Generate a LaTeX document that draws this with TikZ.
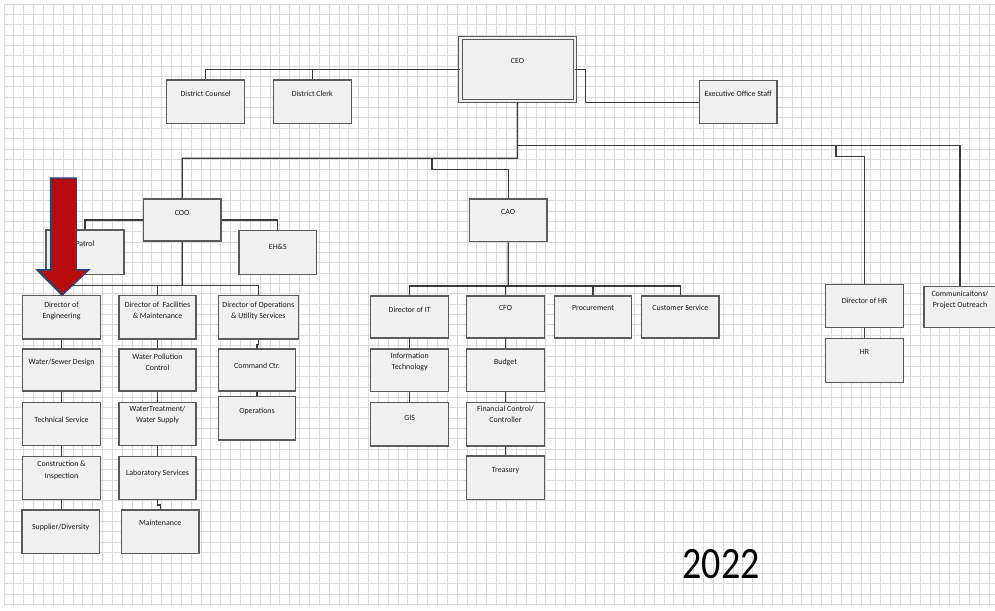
\documentclass[tikz,border=0pt]{standalone}
\usepackage{fontspec}
\setmainfont{Carlito}
\usetikzlibrary{fit,calc}
\definecolor{gridgray}{HTML}{DADADA}
\definecolor{boxline}{HTML}{5A5A5A}
\definecolor{boxfill}{HTML}{F1F1F1}
\definecolor{wirecol}{HTML}{3C3C3C}
\definecolor{arrowred}{HTML}{B80C0C}
\definecolor{arrowedge}{HTML}{34406E}
% box label: centred rows, optionally lifted towards the top edge
\newcommand{\boxtxt}[2][2.5pt]{\raisebox{#1}{\begin{tabular}{@{}c@{}}#2\end{tabular}}}
\begin{document}
\begin{tikzpicture}[x=0.5pt,y=-0.5pt,
  box/.style={draw=boxline, line width=0.6pt, fill=boxfill,
    inner sep=0pt, font=\fontsize{3.95}{5.6}\selectfont, text=black!90},
  wire/.style={draw=wirecol, line width=0.6pt},
  gridline/.style={draw=gridgray, line width=0.4pt}]
\fill[white] (0,0) rectangle (995,610);
\useasboundingbox (0,0) rectangle (995,610);
% background grid
\foreach \i in {0,...,100} \draw[gridline] ({4+9.85*\i},4) -- ({4+9.85*\i},606);
\foreach \j in {0,...,58} \draw[gridline] (4,{4+10.35*\j}) -- (995,{4+10.35*\j});

% top level
\node[box, double=boxfill, double distance=1.2pt, line width=0.5pt,
      fit={(460.3,38.3) (574.7,101.3)}] (ceo) {\boxtxt[3pt]{CEO}};
\node[box, fit={(166.7,80) (244.7,123.7)}] (dcounsel) {\boxtxt{District Counsel}};
\node[box, fit={(273.3,80) (351.3,123.7)}] (dclerk) {\boxtxt{District Clerk}};
\node[box, fit={(699.3,80.7) (777,123.7)}] (exec) {\boxtxt{Executive Office Staff}};

% operations branch
\node[box, fit={(143.3,199) (221,241)}] (coo) {\boxtxt[2pt]{COO}};
\node[box, fit={(46,230) (124,274.3)}] (patrol) {\boxtxt{Patrol}};
\node[box, fit={(239,230.3) (316.7,274.3)}] (ehs) {\boxtxt[0.5pt]{EH\&S}};

\node[box, fit={(22.7,295.7) (100.3,339)}] (eng) {\boxtxt[-0.5pt]{Director of\\Engineering}};
\node[box, fit={(22.7,349) (100.3,391)}] (wsd) {\boxtxt{Water/Sewer Design}};
\node[box, fit={(22.7,402.7) (100.3,445.7)}] (tech) {\boxtxt[0pt]{Technical Service}};
\node[box, fit={(22.7,456.7) (100.3,499.3)}] (cons) {\boxtxt[0.8pt]{Construction \&\\Inspection}};
\node[box, fit={(22,510) (99.3,553.3)}] (supp) {\boxtxt[0.5pt]{Supplier/Diversity}};

\node[box, fit={(119,295.7) (196,339)}] (fac) {\boxtxt[-0.5pt]{Director of\ \ Facilities\\\& Maintenance}};
\node[box, fit={(119,349) (196,391)}] (wpc) {\boxtxt[0pt]{Water Pollution\\Control}};
\node[box, fit={(119,402.7) (196,445.7)}] (wts) {\boxtxt[2.6pt]{WaterTreatment/\\Water Supply}};
\node[box, fit={(119,456.7) (196,499.3)}] (lab) {\boxtxt[1pt]{Laboratory Services}};
\node[box, fit={(121.3,510) (199,553.3)}] (maint) {\boxtxt[2.8pt]{Maintenance}};

\node[box, fit={(218.3,295.7) (298.3,339)}] (ops) {\boxtxt[0pt]{Director of Operations\\\& Utility Services}};
\node[box, fit={(218.3,349) (295.7,391)}] (cmd) {\boxtxt[0pt]{Command Ctr.}};
\node[box, fit={(218.3,396.7) (295.7,440)}] (opr) {\boxtxt{Operations}};

% administration branch
\node[box, fit={(469.3,199) (547,241.7)}] (cao) {\boxtxt[3pt]{CAO}};
\node[box, fit={(370.7,296) (448.7,338)}] (dit) {\boxtxt[2pt]{Director of IT}};
\node[box, fit={(466.7,296) (544.3,338)}] (cfo) {\boxtxt[3pt]{CFO}};
\node[box, fit={(554.3,296) (631.7,338)}] (proc) {\boxtxt[3pt]{Procurement}};
\node[box, fit={(641.7,296) (719,338)}] (cs) {\boxtxt[3pt]{Customer Service}};
\node[box, fit={(370.7,349) (448.7,391.7)}] (itec) {\boxtxt[1.5pt]{Information\\Technology}};
\node[box, fit={(370.7,402.7) (448.7,446)}] (gis) {\boxtxt[2pt]{GIS}};
\node[box, fit={(466.7,349) (544.3,391.7)}] (bud) {\boxtxt[3pt]{Budget}};
\node[box, fit={(466.7,402.7) (544.3,446)}] (fin) {\boxtxt[3pt]{Financial Control/\\Controller}};
\node[box, fit={(466.7,456) (544.3,499.3)}] (tre) {\boxtxt{Treasury}};

% human resources and outreach
\node[box, fit={(825.7,284.3) (903.3,327.3)}] (dhr) {\boxtxt[0pt]{Director of HR}};
\node[box, fit={(825.7,338.3) (903.3,382.3)}] (hr) {\boxtxt[3pt]{HR}};
\node[box, fit={(924,286.7) (996,327.3)}] (comm) {\boxtxt[0.5pt]{Communicaitons/\\Project Outreach}};

% junction points
\coordinate (ceobus) at (517.5,158.3);
\coordinate (rbus) at (517.5,145.7);
\coordinate (caojoin) at (432,158.3);
\coordinate (hrjoin) at (836,145.7);
\coordinate (coobus) at (182.2,285.7);
\coordinate (caobus) at (508.2,286);

% connectors
\draw[wire] (ceo.west) -| (dcounsel.north);
\draw[wire] (dclerk.north) |- (ceo.west);
\draw[wire] (ceo.east) -- ++(10.3,0) |- (exec.west);
\draw[wire] (ceo.south) -- (ceobus) -| (coo.north);
\draw[wire] (cao.north) -- ++(0,-29) -| (caojoin);
\draw[wire] (rbus) -| (comm.north);
\draw[wire] (hrjoin) -- ++(0,11) -| (dhr.north);
\draw[wire] (dhr) -- (hr);

\draw[wire] (coo.west) -| (patrol.north);
\draw[wire] (coo.east) -| (ehs.north);
\draw[wire] (coo.south) -- (coobus);
\draw[wire] (eng.north) |- (coobus) -| (ops.north);
\draw[wire] (coobus) -| (fac.north);
\draw[wire] (eng) -- (wsd);
\draw[wire] (wsd) -- (tech);
\draw[wire] (tech) -- (cons);
\draw[wire] (cons.south) -- (cons.south |- supp.north);
\draw[wire] (fac) -- (wpc);
\draw[wire] (wpc) -- (wts);
\draw[wire] (wts) -- (lab);
\draw[wire] (lab.south) -- ++(0,5) -| (maint.north);
\draw[wire] (ops.south) -- ++(0,5) -| (cmd.north);
\draw[wire] (cmd.south) -- (cmd.south |- opr.north);

\draw[wire] (cao.south) -- (caobus);
\draw[wire] (dit.north) |- (caobus) -| (cs.north);
\draw[wire] (cfo.north) |- (caobus);
\draw[wire] (proc.north) |- (caobus);
\draw[wire] (dit) -- (itec);
\draw[wire] (itec) -- (gis);
\draw[wire] (cfo) -- (bud);
\draw[wire] (bud) -- (fin);
\draw[wire] (fin) -- (tre);

% pointer arrow onto Engineering
\filldraw[fill=arrowred, draw=arrowedge, line width=0.9pt, line join=miter]
  (50.7,178.3) -- (76,178.3) -- (76,270) -- (88.3,270) -- (62,295)
  -- (37.3,270) -- (50.7,270) -- cycle;

% year
\node[anchor=base, inner sep=0pt, font=\fontsize{19}{22}\selectfont] (year) at (721,578.3)
  {\scalebox{1}[1.18]{2022}};
\end{tikzpicture}
\end{document}
